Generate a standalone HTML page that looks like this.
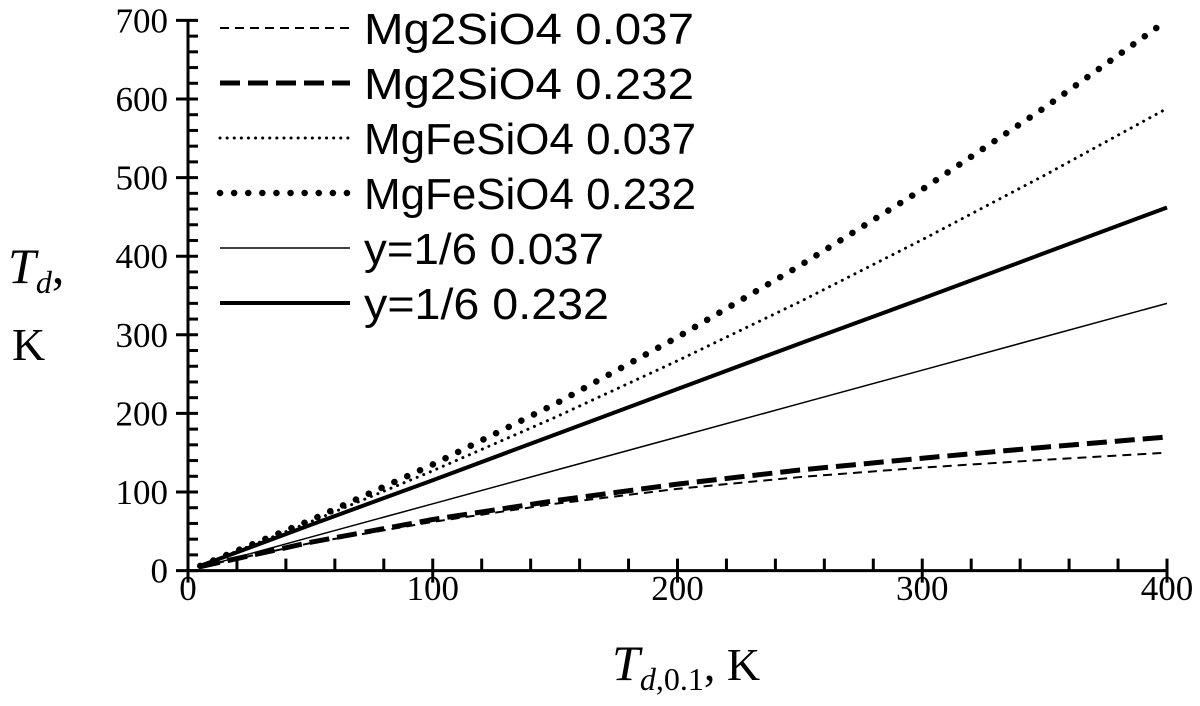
<!DOCTYPE html>
<html><head><meta charset="utf-8"><style>
html,body{margin:0;padding:0;background:#fff;width:1200px;height:706px;overflow:hidden}
</style></head><body>
<svg id="chart" width="1200" height="706" xmlns="http://www.w3.org/2000/svg">
<g id="series"></g>
<g id="axes"></g>
<g id="legend"></g>
<text x="8" y="283" font-family="Liberation Serif, serif" font-style="italic" font-size="50">T<tspan font-size="32" dy="10">d</tspan><tspan font-style="normal" dy="-10">,</tspan></text>
<text x="12" y="360" font-family="Liberation Serif, serif" font-size="46">K</text>
<text x="612" y="680" font-family="Liberation Serif, serif" font-size="46"><tspan font-style="italic" font-size="50">T</tspan><tspan font-style="italic" font-size="32" dy="10">d</tspan><tspan font-size="32">,0.1</tspan><tspan dy="-10">, K</tspan></text>
</svg>
<script>
const xs = [5,50,100,150,200,250,300,350,400];
const mg2_037 = [5,35,62,85,104,119,131,141,150];
const mg2_232 = [5,36,65,89,110,128,143,157,170];
const mgfe_037 = [6,62,127,195,267,342,421,503,588];
const mgfe_232 = [6,64,135,212,297,388,485,589,700];
const y16_037 = [4,42.5,85,127.5,170,212.5,255,297.5,340];
const y16_232 = [6,58,115,173,231,289,346,404,462];
const xTicks = [0,100,200,300,400];
const yTicks = [0,100,200,300,400,500,600,700];
const seriesNames = ["Mg2SiO4 0.037","Mg2SiO4 0.232","MgFeSiO4 0.037","MgFeSiO4 0.232","y=1/6 0.037","y=1/6 0.232"];

const NS="http://www.w3.org/2000/svg";
const X0=188,X1=1167,Y0=570.6,Y1=20.4;
const sx=v=>X0+(v/400)*(X1-X0);
const sy=v=>Y0-(v/700)*(Y0-Y1);
function mk(tag,attrs,parent){const e=document.createElementNS(NS,tag);for(const k in attrs)e.setAttribute(k,attrs[k]);parent.appendChild(e);return e;}
const axes=document.getElementById('axes'),ser=document.getElementById('series'),leg=document.getElementById('legend');

const styles=[
 {w:2,dash:"9 6",cap:"butt"},
 {w:5,dash:"20 8",cap:"butt"},
 {w:3,dash:"0.1 7",cap:"round"},
 {w:6.5,dash:"0.1 14",cap:"round"},
 {w:1.5,dash:"",cap:"butt"},
 {w:4,dash:"",cap:"butt"}];
const data=[mg2_037,mg2_232,mgfe_037,mgfe_232,y16_037,y16_232];
const names=["series-mg2sio4-0037","series-mg2sio4-0232","series-mgfesio4-0037","series-mgfesio4-0232","series-y16-0037","series-y16-0232"];
data.forEach((d,i)=>{
 const p=mk('polyline',{points:xs.map((x,j)=>sx(x)+','+sy(d[j])).join(' '),fill:'none',stroke:'#000','stroke-width':styles[i].w,'stroke-dasharray':styles[i].dash,'stroke-linecap':styles[i].cap,'stroke-linejoin':'round'},ser);
 
 
});

const xa=mk('line',{x1:X0,y1:Y0,x2:X1,y2:Y0,stroke:'#000','stroke-width':3},axes);


const ya=mk('line',{x1:X0,y1:Y0,x2:X0,y2:Y1,stroke:'#000','stroke-width':3},axes);


for(let v=0;v<=400;v+=20){const x=sx(v);const major=v%100===0;
 mk('line',{x1:x,y1:major?Y0+12:Y0,x2:x,y2:Y0-12,stroke:'#000','stroke-width':3},axes);}
for(let v=0;v<=700;v+=20){const y=sy(v);const major=v%100===0;
 mk('line',{x1:major?X0-12:X0,y1:y,x2:X0+10,y2:y,stroke:'#000','stroke-width':3},axes);}
xTicks.forEach(v=>{const t=mk('text',{x:sx(v),y:600,'text-anchor':'middle','font-family':'Liberation Serif, serif','font-size':35},axes);t.textContent=v;
 
 });
yTicks.forEach(v=>{const t=mk('text',{x:168,y:sy(v)+12,'text-anchor':'end','font-family':'Liberation Serif, serif','font-size':35},axes);t.textContent=v;
 
 });

const legW=[330,330,332,332,240,245];
seriesNames.forEach((n,i)=>{const y=28+i*55;
 const g=mk('g',{},leg);
 
 
 mk('line',{x1:220,y1:y,x2:350,y2:y,stroke:'#000','stroke-width':styles[i].w,'stroke-dasharray':styles[i].dash,'stroke-linecap':styles[i].cap},g);
 const t=mk('text',{x:364,y:y+16,'font-family':'Liberation Sans, sans-serif','font-size':44,textLength:legW[i],lengthAdjust:'spacingAndGlyphs'},g);t.textContent=n;});
</script>
</body></html>
